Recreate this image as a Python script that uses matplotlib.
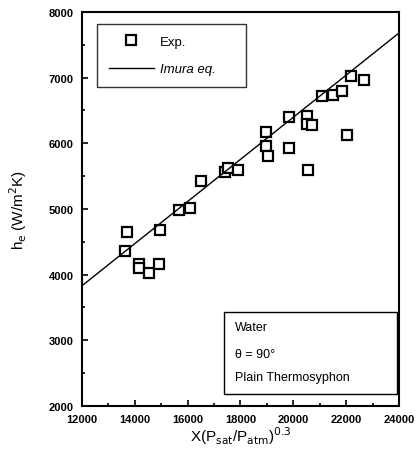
import numpy as np
import matplotlib.pyplot as plt
from matplotlib.ticker import MultipleLocator
from matplotlib.patches import Rectangle

x_exp = [13640, 13716, 14170, 14170, 14550, 14928, 14966, 15674, 16090, 16519,
         17417, 17515, 17920, 18958, 18958, 19050, 19825, 19825, 20510, 20510,
         20570, 20700, 21100, 21520, 21860, 22020, 22190, 22660]
h_exp = [4362, 4647, 4160, 4100, 4028, 4160, 4682, 4986, 5012, 5432,
         5569, 5621, 5595, 6169, 5952, 5813, 6402, 5930, 6412, 6295,
         5600, 6285, 6726, 6741, 6793, 6128, 7030, 6965]

# Imura correlation (straight line across the axis)
x_imura = [12000, 24000]
h_imura = [3830, 7680]

conditions = ['Water', '\u03b8 = 90\u00b0', 'Plain Thermosyphon']

plt.rcParams['font.family'] = ['Liberation Sans', 'DejaVu Sans']

fig = plt.figure(figsize=(4.16, 4.64), dpi=100)
ax = fig.add_axes([0.197, 0.123, 0.762, 0.849])

ax.plot(x_exp, h_exp, 's', mfc='white', mec='black', ms=7, mew=1.6, label='Exp.')
ax.plot(x_imura, h_imura, '-', color='black', lw=1.0, label='Imura eq.')

ax.set_xlim(12000, 24000)
ax.set_ylim(2000, 8000)
ax.xaxis.set_major_locator(MultipleLocator(2000))
ax.xaxis.set_minor_locator(MultipleLocator(1000))
ax.yaxis.set_major_locator(MultipleLocator(1000))
ax.yaxis.set_minor_locator(MultipleLocator(500))
ax.tick_params(which='both', direction='in', top=False, right=False, labelsize=8)
ax.tick_params(which='major', length=4, width=1.2, pad=6)
ax.tick_params(which='minor', length=2, width=1.2)
for lab in ax.get_xticklabels() + ax.get_yticklabels():
    lab.set_fontweight('bold')
for s in ax.spines.values():
    s.set_linewidth(1.5)

ax.set_xlabel(r'X(P$_{\mathrm{sat}}$/P$_{\mathrm{atm}}$)$^{0.3}$', fontsize=11, labelpad=0)
ax.set_ylabel(r'h$_{\mathrm{e}}$ (W/m$^{2}$K)', fontsize=11, labelpad=14)

leg = ax.legend(loc='upper left', bbox_to_anchor=(0.047, 0.81, 0.47, 0.16), mode='expand',
                fontsize=9.5, numpoints=1, frameon=True, fancybox=False, edgecolor='black',
                handlelength=3.4, handletextpad=0.5, borderpad=0.9, labelspacing=1.15,
                borderaxespad=0)
leg.get_frame().set_linewidth(1.0)
leg.get_texts()[1].set_style('italic')

# condition box
ax.add_patch(Rectangle((0.448, 0.030), 0.546, 0.209, transform=ax.transAxes,
                       fill=False, ec='black', lw=1.0, zorder=3))
for txt, yy in zip(conditions, [0.200, 0.132, 0.074]):
    ax.text(0.483, yy, txt, transform=ax.transAxes, fontsize=9, va='center', ha='left')

fig.savefig('out.png', dpi=100)
